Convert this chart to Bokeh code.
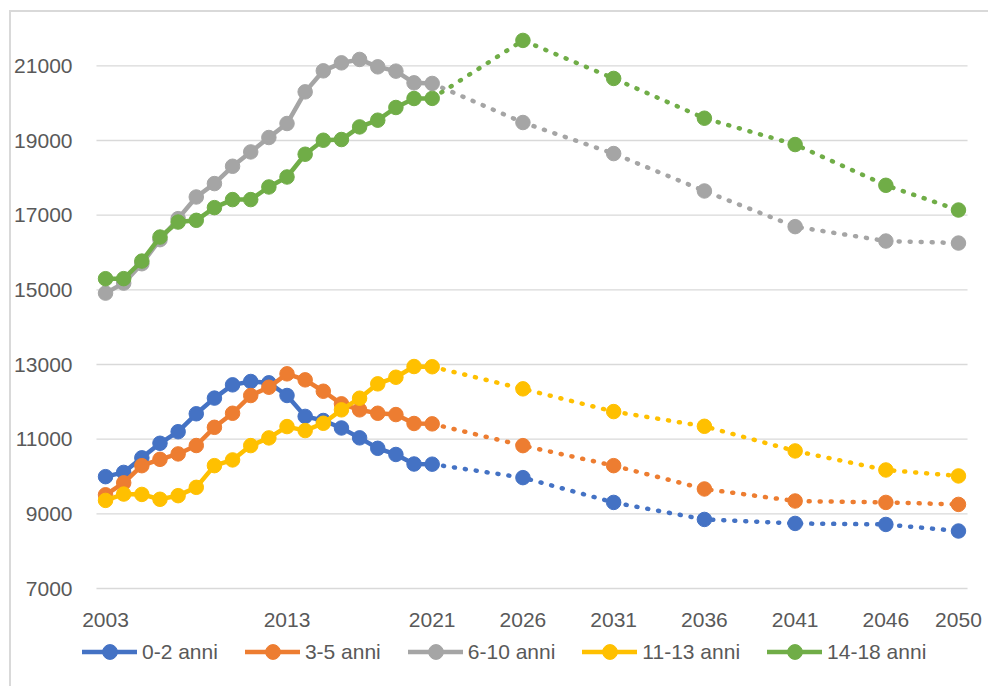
from bokeh.plotting import figure
from bokeh.models import Range1d, FixedTicker, Legend, LegendItem
from bokeh.core.properties import value
from bokeh.embed import file_html
from bokeh.resources import INLINE

years = [2003, 2004, 2005, 2006, 2007, 2008, 2009, 2010, 2011, 2012, 2013,
         2014, 2015, 2016, 2017, 2018, 2019, 2020, 2021,
         2026, 2031, 2036, 2041, 2046, 2050]
tick_years = [2003, 2013, 2021, 2026, 2031, 2036, 2041, 2046, 2050]
y_ticks = [7000, 9000, 11000, 13000, 15000, 17000, 19000, 21000]

age_0_2 = [9996, 10110, 10500, 10890, 11200, 11680, 12100, 12455, 12545, 12510,
           12170, 11610, 11500, 11300, 11035, 10755, 10590, 10335, 10330,
           9970, 9306, 8850, 8743, 8716, 8540]
age_3_5 = [9510, 9830, 10290, 10460, 10605, 10830, 11318, 11694, 12169, 12391,
           12750, 12589, 12284, 11946, 11785, 11694, 11659, 11420, 11410,
           10827, 10291, 9666, 9344, 9306, 9253]
age_6_10 = [14912, 15180, 15700, 16344, 16907, 17487, 17846, 18310, 18694, 19080,
            19455, 20303, 20866, 21080, 21171, 20973, 20858, 20544, 20528,
            19482, 18650, 17648, 16693, 16307, 16253]
age_11_13 = [9360, 9530, 9520, 9390, 9487, 9710, 10291, 10444, 10828, 11034,
             11337, 11230, 11426, 11785, 12097, 12482, 12659, 12946, 12940,
             12348, 11739, 11345, 10685, 10175, 10015]
age_14_18 = [15298, 15300, 15770, 16414, 16816, 16862, 17202, 17417, 17417, 17755,
             18023, 18632, 19007, 19026, 19364, 19544, 19884, 20125, 20128,
             21681, 20662, 19597, 18892, 17800, 17138]

labels = ["0-2 anni", "3-5 anni", "6-10 anni", "11-13 anni", "14-18 anni"]
colors = ["#4472C4", "#ED7D31", "#A5A5A5", "#FFC000", "#70AD47"]
series = [age_0_2, age_3_5, age_6_10, age_11_13, age_14_18]

FONT = "Liberation Sans"
GREY_TXT = "#595959"
n_hist = years.index(2021) + 1

# the frame reaches down to the legend row so the legend is not clipped;
# the x labels and gridlines are drawn by hand
p = figure(width=988, height=686, title=None, x_axis_location=None,
           x_range=Range1d(2001.62, 2051.49), y_range=Range1d(4536, 22000),
           output_backend="svg", toolbar_location=None,
           min_border_left=80, min_border_right=3,
           min_border_top=28, min_border_bottom=6)

# light chart-area border on top and left, as in the spreadsheet export
p.border_fill_alpha = 0
p.background_fill_color = "white"
p.styles = {"background": "linear-gradient(#D9D9D9, #D9D9D9) 9px 10px / 100% 2px no-repeat, "
                          "linear-gradient(#D9D9D9, #D9D9D9) 9px 10px / 2px 100% no-repeat, white"}

p.outline_line_color = None
p.grid.visible = False

p.segment(x0=2002.5, x1=2050.5, y0=y_ticks, y1=y_ticks,
          line_color="#D9D9D9", line_width=1.3)

p.yaxis.ticker = FixedTicker(ticks=y_ticks)
p.yaxis.axis_line_color = None
p.yaxis.major_tick_line_color = None
p.yaxis.minor_tick_line_color = None
p.yaxis.major_tick_out = 0
p.yaxis.major_label_standoff = 8
p.yaxis.major_label_text_font = FONT
p.yaxis.major_label_text_font_size = "21px"
p.yaxis.major_label_text_color = GREY_TXT

p.text(x=tick_years, y=[7000] * len(tick_years), text=[str(t) for t in tick_years],
       y_offset=31, text_align="center", text_baseline="middle",
       text_font=value(FONT), text_font_size=value("21px"), text_color=GREY_TXT)

items = []
for vals, col, lab in zip(series, colors, labels):
    solid = p.line(years[:n_hist], vals[:n_hist], line_color=col, line_width=4.5,
                   line_join="round", line_cap="round")
    p.line(years[n_hist - 1:], vals[n_hist - 1:], line_color=col, line_width=4.5,
           line_dash="1 10", line_cap="round")
    pts = p.scatter(years, vals, size=14.5, fill_color=col, line_color=col)
    items.append(LegendItem(label=lab, renderers=[solid, pts]))

legend = Legend(items=items, orientation="horizontal", location=(2, 10),
                glyph_width=55, glyph_height=37, label_standoff=5, spacing=27,
                padding=0, margin=0, border_line_color=None,
                background_fill_alpha=0,
                label_text_font=FONT, label_text_font_size="21px",
                label_text_color=GREY_TXT)
p.add_layout(legend)

open("out.html", "w").write(file_html(p, INLINE))
